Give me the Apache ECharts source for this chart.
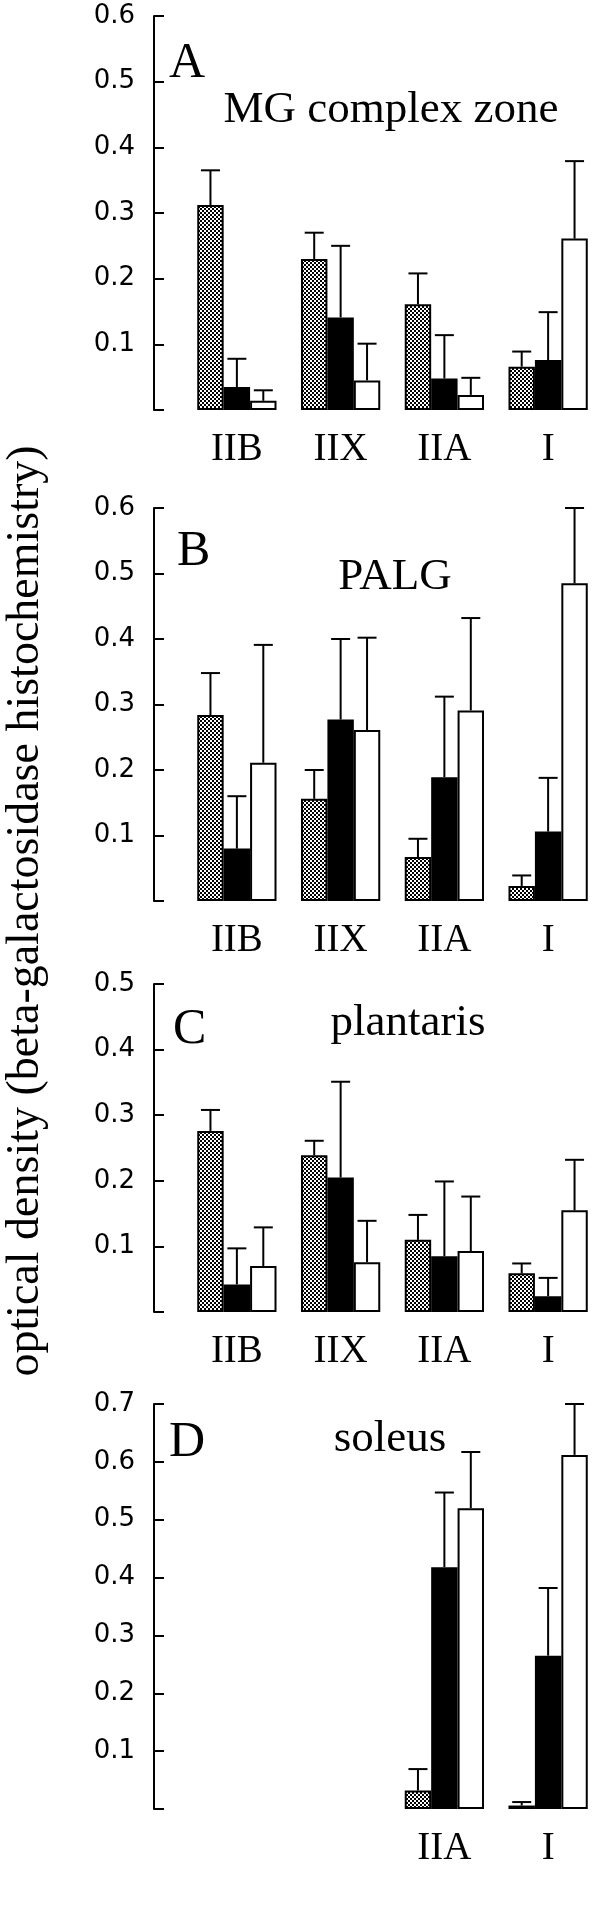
<!DOCTYPE html>
<html><head><meta charset="utf-8">
<script src="https://cdn.jsdelivr.net/npm/echarts@6/dist/echarts.min.js"></script>
<style>html,body{margin:0;padding:0;background:#fff}#c{width:600px;height:1932px}</style>
</head><body><div id="c"></div>
<script>
const categories = ['IIB', 'IIX', 'IIA', 'I'];

// Panel A: MG complex zone
const aDotted = [0.312, 0.230, 0.161, 0.066];
const aDottedErr = [0.053, 0.040, 0.047, 0.023];
const aBlack = [0.035, 0.141, 0.048, 0.076];
const aBlackErr = [0.043, 0.109, 0.066, 0.073];
const aWhite = [0.014, 0.045, 0.023, 0.261];
const aWhiteErr = [0.016, 0.056, 0.026, 0.118];

// Panel B: PALG
const bDotted = [0.284, 0.156, 0.067, 0.023];
const bDottedErr = [0.064, 0.044, 0.028, 0.016];
const bBlack = [0.080, 0.277, 0.189, 0.106];
const bBlackErr = [0.080, 0.123, 0.123, 0.082];
const bWhite = [0.211, 0.261, 0.291, 0.485];
const bWhiteErr = [0.180, 0.141, 0.141, 0.115];

// Panel C: plantaris
const cDotted = [0.276, 0.239, 0.110, 0.059];
const cDottedErr = [0.032, 0.022, 0.038, 0.015];
const cBlack = [0.042, 0.205, 0.085, 0.024];
const cBlackErr = [0.055, 0.146, 0.114, 0.028];
const cWhite = [0.070, 0.076, 0.093, 0.155];
const cWhiteErr = [0.059, 0.063, 0.083, 0.077];

// Panel D: soleus
const dDotted = [null, null, 0.032, 0.006];
const dDottedErr = [null, null, 0.037, 0.006];
const dBlack = [null, null, 0.418, 0.265];
const dBlackErr = [null, null, 0.129, 0.117];
const dWhite = [null, null, 0.520, 0.612];
const dWhiteErr = [null, null, 0.097, 0.088];

const yMaxes = [0.6, 0.6, 0.5, 0.7];
const panelLetters = ['A', 'B', 'C', 'D'];
const panelNames = ['MG complex zone', 'PALG', 'plantaris', 'soleus'];
const yTitle = 'optical density (beta-galactosidase histochemistry)';

const panels = [
  { dotted: aDotted, dottedErr: aDottedErr, black: aBlack, blackErr: aBlackErr, white: aWhite, whiteErr: aWhiteErr },
  { dotted: bDotted, dottedErr: bDottedErr, black: bBlack, blackErr: bBlackErr, white: bWhite, whiteErr: bWhiteErr },
  { dotted: cDotted, dottedErr: cDottedErr, black: cBlack, blackErr: cBlackErr, white: cWhite, whiteErr: cWhiteErr },
  { dotted: dDotted, dottedErr: dDottedErr, black: dBlack, blackErr: dBlackErr, white: dWhite, whiteErr: dWhiteErr }
];

// layout
const gridBoxes = [
  { top: 16, height: 394 },
  { top: 508, height: 393 },
  { top: 984, height: 328 },
  { top: 1404, height: 405 }
];
const letterPos = [[169, 64], [177, 552], [173, 1030], [169, 1443]];
const namePos = [[391, 110], [395, 577], [408, 1023], [390, 1439]];
const GAP = 0.236;

// pattern for dotted bars
const pc = document.createElement('canvas');
pc.width = 4; pc.height = 4;
const pctx = pc.getContext('2d');
pctx.fillStyle = '#fff'; pctx.fillRect(0, 0, 4, 4);
pctx.fillStyle = '#000'; pctx.fillRect(0, 0, 2, 2); pctx.fillRect(2, 2, 2, 2);
const dotFill = { image: pc, repeat: 'repeat' };

const SERIF = 'Liberation Serif';
const SANS = 'DejaVu Sans';

function errRender(offsetIdx) {
  return function (params, api) {
    const c = api.value(0), v = api.value(1), e = api.value(2);
    const base = api.coord([c, v]);
    const top = api.coord([c, v + e]);
    const band = api.size([1, 0])[0];
    const bw = band * (1 - GAP) / 3;
    const x = base[0] + offsetIdx * bw;
    return {
      type: 'group', children: [
        { type: 'line', shape: { x1: x, y1: base[1], x2: x, y2: top[1] }, style: { stroke: '#000', lineWidth: 2 } },
        { type: 'line', shape: { x1: x - 9.5, y1: top[1], x2: x + 9.5, y2: top[1] }, style: { stroke: '#000', lineWidth: 2 } }
      ]
    };
  };
}

const grid = [], xAxis = [], yAxis = [], series = [], graphic = [];
panels.forEach((p, k) => {
  grid.push({ left: 185, width: 425, top: gridBoxes[k].top, height: gridBoxes[k].height, containLabel: false });
  xAxis.push({
    type: 'category', gridIndex: k, data: categories,
    axisLine: { show: false }, axisTick: { show: false },
    axisLabel: {
      color: '#000', fontFamily: SERIF, fontSize: 39, margin: 20,
      formatter: (v, i) => (p.dotted[i] == null ? '' : v)
    }
  });
  yAxis.push({
    type: 'value', gridIndex: k, min: 0, max: yMaxes[k], interval: 0.1, offset: 31,
    axisLine: { show: true, lineStyle: { color: '#000', width: 2 } },
    axisTick: { show: true, inside: true, length: 10, lineStyle: { color: '#000', width: 2 } },
    splitLine: { show: false },
    axisLabel: {
      color: '#000', fontFamily: SANS, fontSize: 26, margin: 19,
      formatter: v => (v === 0 ? '' : v.toFixed(1))
    }
  });
  const groups = [
    { vals: p.dotted, errs: p.dottedErr, style: { color: dotFill, borderColor: '#000', borderWidth: 2 }, off: -1, name: 'dotted' },
    { vals: p.black, errs: p.blackErr, style: { color: '#000', borderColor: '#000', borderWidth: 2 }, off: 0, name: 'black' },
    { vals: p.white, errs: p.whiteErr, style: { color: '#fff', borderColor: '#000', borderWidth: 2 }, off: 1, name: 'white' }
  ];
  groups.forEach(g => {
    series.push({
      type: 'bar', name: g.name, xAxisIndex: k, yAxisIndex: k,
      data: g.vals.map(v => (v == null ? '-' : v)),
      barGap: '0%', barCategoryGap: (GAP * 100) + '%',
      itemStyle: g.style, silent: true, animation: false, z: 2
    });
  });
  groups.forEach(g => {
    const d = [];
    g.vals.forEach((v, i) => { if (v != null) d.push([i, v, g.errs[i]]); });
    series.push({
      type: 'custom', xAxisIndex: k, yAxisIndex: k, coordinateSystem: 'cartesian2d',
      renderItem: errRender(g.off), data: d, z: 3, clip: false, silent: true, animation: false
    });
  });
  graphic.push({
    type: 'text', x: letterPos[k][0], y: letterPos[k][1],
    style: { text: panelLetters[k], font: '50px "' + SERIF + '"', fill: '#000', textAlign: 'left', textVerticalAlign: 'middle', align: 'left', verticalAlign: 'middle' }
  });
  graphic.push({
    type: 'text', x: namePos[k][0], y: namePos[k][1],
    style: { text: panelNames[k], font: '45px "' + SERIF + '"', fill: '#000', textAlign: 'center', textVerticalAlign: 'middle', align: 'center', verticalAlign: 'middle' }
  });
});
graphic.push({
  type: 'text', x: 26, y: 911, rotation: Math.PI / 2,
  style: { text: yTitle, font: '46px "' + SERIF + '"', fill: '#000', textAlign: 'center', textVerticalAlign: 'middle', align: 'center', verticalAlign: 'middle' }
});

const chart = echarts.init(document.getElementById('c'), null, { renderer: 'canvas' });
chart.setOption({ animation: false, backgroundColor: '#fff', grid, xAxis, yAxis, series, graphic });
</script>
</body></html>
